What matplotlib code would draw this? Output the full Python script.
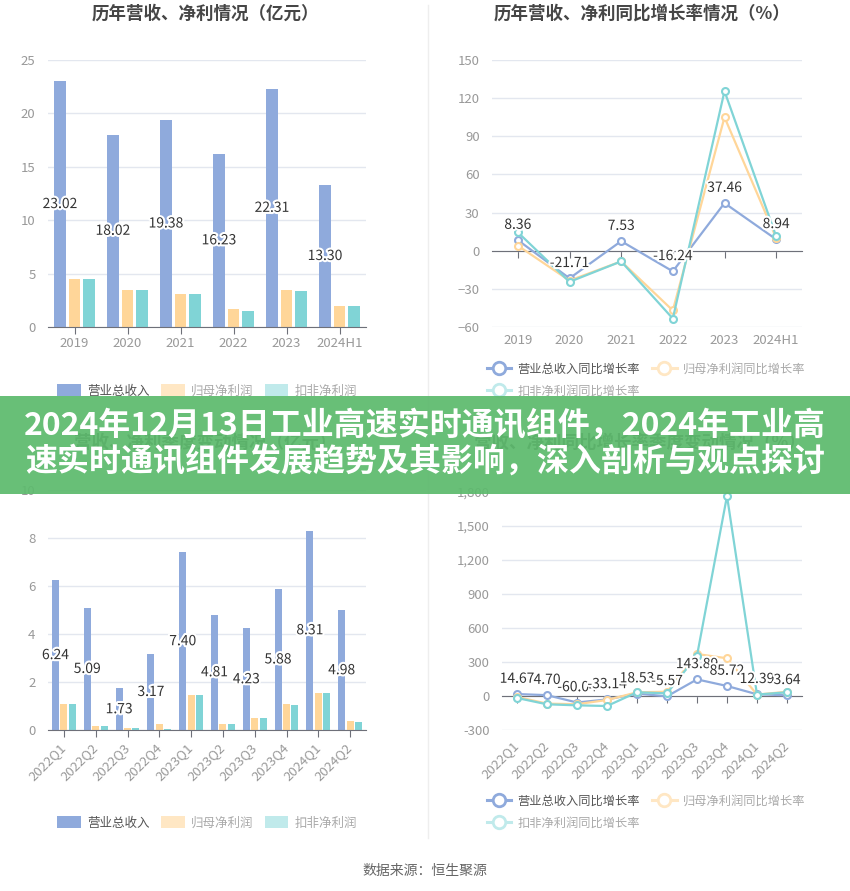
import numpy as np
import matplotlib
matplotlib.use("Agg")
import matplotlib.pyplot as plt
import matplotlib.patheffects as pe
from matplotlib.patches import Patch, Rectangle
from matplotlib.lines import Line2D
from matplotlib.ticker import FuncFormatter

plt.rcParams["font.family"] = ["Noto Sans CJK SC", "DejaVu Sans"]

# ---- data ----
years = ["2019", "2020", "2021", "2022", "2023", "2024H1"]
rev_year = [23.02, 18.02, 19.38, 16.23, 22.31, 13.30]
np_year = [4.46, 3.43, 3.12, 1.65, 3.43, 1.97]
dnp_year = [4.46, 3.43, 3.12, 1.47, 3.34, 1.97]

rev_yoy = [8.36, -21.71, 7.53, -16.24, 37.46, 8.94]
np_yoy = [4.0, -23.5, -8.4, -47.0, 105.0, 10.0]
dnp_yoy = [14.5, -24.5, -8.4, -53.4, 125.5, 11.3]

quarters = ["2022Q1", "2022Q2", "2022Q3", "2022Q4", "2023Q1",
            "2023Q2", "2023Q3", "2023Q4", "2024Q1", "2024Q2"]
rev_q = [6.24, 5.09, 1.73, 3.17, 7.40, 4.81, 4.23, 5.88, 8.31, 4.98]
np_q = [1.07, 0.18, 0.08, 0.25, 1.46, 0.26, 0.51, 1.10, 1.56, 0.37]
dnp_q = [1.10, 0.18, 0.08, 0.03, 1.46, 0.23, 0.50, 1.06, 1.56, 0.33]

rev_q_yoy = [14.67, 4.70, -60.04, -33.14, 18.53, -5.57, 143.89, 85.72, 12.39, 3.64]
np_q_yoy = [-10, -70, -75, -38, 30, 35, 368, 330, 10, 35]
dnp_q_yoy = [-20, -76, -85, -91, 30, 21, 353, 1762, 10, 30]

bar_names = ["营业总收入", "归母净利润", "扣非净利润"]
line_names = ["营业总收入同比增长率", "归母净利润同比增长率", "扣非净利润同比增长率"]

BLUE = "#8FAADC"
ORANGE = "#FFD699"
TEAL = "#80D4D6"
PALE = ["#8FAADC", "#FFE7C4", "#C0EAEB"]
LEG_TXT = ["#555555", "#AAAAAA", "#AAAAAA"]
GRID = "#E3E7EF"
AXIS = "#6E7079"
TICK_TXT = "#999999"
TITLE = "#464646"

W, H = 850, 891
fig = plt.figure(figsize=(W / 100, H / 100), dpi=100)
fig.patch.set_facecolor("white")


def px_axes(x0, y0, x1, y1):
    return fig.add_axes([x0 / W, 1 - y1 / H, (x1 - x0) / W, (y1 - y0) / H])


def style(ax, yticks):
    for s in ["top", "right", "left"]:
        ax.spines[s].set_visible(False)
    ax.set_yticks(yticks)
    ax.yaxis.grid(True, color=GRID, linewidth=1)
    ax.set_axisbelow(True)
    ax.tick_params(axis="y", length=0, pad=9, labelsize=9.5, labelcolor=TICK_TXT)
    ax.set_facecolor("none")


halo = [pe.withStroke(linewidth=3, foreground="white")]


def bar_chart(ax, cats, rev, np_, dnp, ylim, yticks, width, off, rotate):
    x = np.arange(len(cats))
    ax.bar(x - off, rev, width, color=BLUE, zorder=2)
    ax.bar(x, np_, width, color=ORANGE, zorder=2)
    ax.bar(x + off, dnp, width, color=TEAL, zorder=2)
    for xi, v in zip(x, rev):
        ax.text(xi - off, v / 2, f"{v:.2f}", ha="center", va="center",
                fontsize=10, color="#333333", path_effects=halo, zorder=4)
    ax.set_xlim(-0.5, len(cats) - 0.5)
    ax.set_ylim(*ylim)
    style(ax, yticks)
    ax.spines["bottom"].set_color(AXIS)
    ax.set_xticks(x)
    if rotate:
        ax.set_xticklabels(cats, rotation=45, ha="right", va="center",
                           rotation_mode="anchor")
        ax.tick_params(axis="x", length=5, color=AXIS, pad=6,
                       labelsize=9.5, labelcolor=TICK_TXT)
    else:
        ax.set_xticklabels(cats)
        ax.tick_params(axis="x", length=5, color=AXIS, pad=2,
                       labelsize=9.5, labelcolor=TICK_TXT)


def line_chart(ax, cats, a, b, c, ylim, yticks, rotate, fmt=None):
    x = np.arange(len(cats))
    for vals, col in [(a, BLUE), (b, ORANGE), (c, TEAL)]:
        ax.plot(x, vals, color=col, lw=1.6, marker="o", ms=5,
                mfc="white", mec=col, mew=1.5, zorder=3)
    for xi, v in zip(x, a):
        ax.annotate(f"{v:.2f}", (xi, v), xytext=(0, 11), textcoords="offset points",
                    ha="center", va="center", fontsize=10, color="#333333",
                    path_effects=halo, zorder=5)
    ax.set_xlim(-0.5, len(cats) - 0.5)
    ax.set_ylim(*ylim)
    style(ax, yticks)
    if fmt:
        ax.yaxis.set_major_formatter(FuncFormatter(fmt))
    ax.spines["bottom"].set_position(("data", 0))
    ax.spines["bottom"].set_color(AXIS)
    ax.set_xticks(x)
    ax.tick_params(axis="x", length=5, color=AXIS, labelbottom=False)
    sec = ax.secondary_xaxis("bottom")
    sec.spines["bottom"].set_visible(False)
    sec.set_xticks(x)
    if rotate:
        sec.set_xticklabels(cats, rotation=45, ha="right", va="center",
                            rotation_mode="anchor")
        sec.tick_params(length=0, pad=10, labelsize=9.5, labelcolor=TICK_TXT)
    else:
        sec.set_xticklabels(cats)
        sec.tick_params(length=0, pad=5, labelsize=9.5, labelcolor=TICK_TXT)


# ---- panels ----
ax1 = px_axes(48, 60, 366, 327)
bar_chart(ax1, years, rev_year, np_year, dnp_year, (0, 25), range(0, 26, 5),
          0.226, 0.274, False)

ax2 = px_axes(492, 60, 802, 327)
line_chart(ax2, years, rev_yoy, np_yoy, dnp_yoy, (-60, 150), range(-60, 151, 30), False)

ax3 = px_axes(48, 490, 366, 730)
bar_chart(ax3, quarters, rev_q, np_q, dnp_q, (0, 10), range(0, 11, 2),
          0.22, 0.265, True)

ax4 = px_axes(502, 491.7, 802, 729.7)
line_chart(ax4, quarters, rev_q_yoy, np_q_yoy, dnp_q_yoy, (-300, 1800),
           range(-300, 1801, 300), True, fmt=lambda v, p: f"{v:,.0f}")

# ---- titles ----
for x, y, t in [(205, 14, "历年营收、净利情况（亿元）"),
                (642, 14, "历年营收、净利同比增长率情况（%）"),
                (205, 443, "营收、净利季度变动情况（亿元）"),
                (640, 443, "营收、净利同比增长率季度变动情况（%）")]:
    fig.text(x / W, 1 - y / H, t, ha="center", va="center", fontsize=12.6,
             fontweight="bold", color=TITLE)

# ---- legends ----
def bar_legend(cy):
    handles = [Patch(facecolor=PALE[i], edgecolor="none") for i in range(3)]
    leg = fig.legend(handles, bar_names, loc="center", bbox_to_anchor=(207 / W, 1 - cy / H),
                     ncol=3, frameon=False, fontsize=9, handlelength=1.9,
                     handleheight=1.1, handletextpad=0.5, columnspacing=0.9)
    for t, c in zip(leg.get_texts(), LEG_TXT):
        t.set_color(c)


def line_legend(cy):
    handles = [Line2D([0], [0], color=PALE[i], lw=2.2, marker="o", ms=9,
                      mfc="white", mec=PALE[i], mew=2) for i in range(3)]
    order = [0, 2, 1]
    leg = fig.legend([handles[i] for i in order], [line_names[i] for i in order],
                     loc="center", bbox_to_anchor=(646 / W, 1 - cy / H), ncol=2,
                     frameon=False, fontsize=8.8, handlelength=2.0,
                     handletextpad=0.5, columnspacing=1.0, labelspacing=0.75)
    for t, i in zip(leg.get_texts(), order):
        t.set_color(LEG_TXT[i])


bar_legend(391)
bar_legend(823)
line_legend(380)
line_legend(812)

# faint card divider
fig.add_artist(Line2D([428 / W, 428 / W], [1 - 5 / H, 1 - 838 / H],
                      color="#EEEEEE", lw=1, transform=fig.transFigure))

# ---- source ----
fig.text(425 / W, 1 - 871 / H, "数据来源：恒生聚源", ha="center", va="center",
         fontsize=10, color="#666666")

# ---- banner ----
fig.add_artist(Rectangle((0, 1 - 494 / H), 1, 98 / H, transform=fig.transFigure,
                         facecolor="#5DBA6D", edgecolor="none", alpha=0.93, zorder=10))
fig.text(0.5, 1 - 426 / H, "2024年12月13日工业高速实时通讯组件，2024年工业高",
         ha="center", va="center", fontsize=23, fontweight="bold", color="white", zorder=11)
fig.text(0.5, 1 - 463 / H, "速实时通讯组件发展趋势及其影响，深入剖析与观点探讨",
         ha="center", va="center", fontsize=23, fontweight="bold", color="white", zorder=11)

fig.savefig("out.png", dpi=100)
